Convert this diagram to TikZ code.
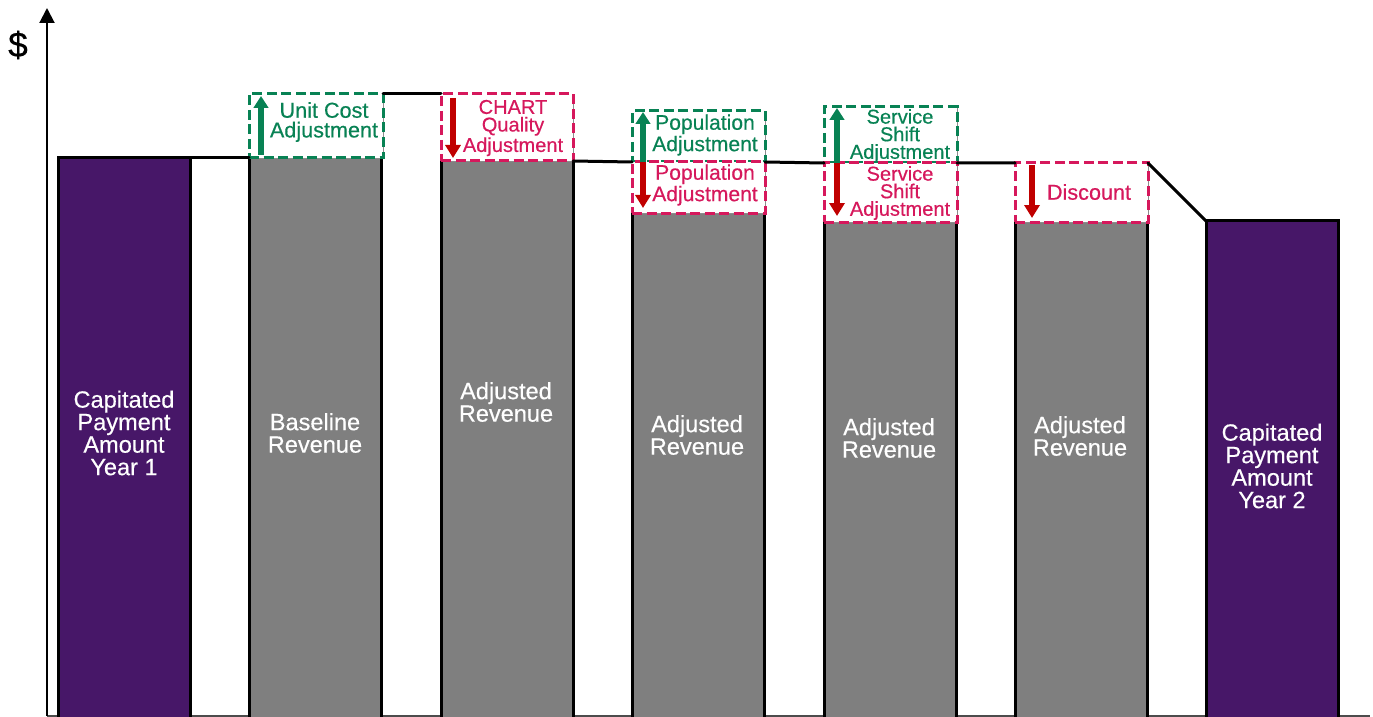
\documentclass[tikz,border=0pt]{standalone}
\usepackage{fontspec}
\setmainfont{Liberation Sans}[FakeBold=0.4]
\usetikzlibrary{positioning,calc,arrows.meta}
\definecolor{cappurple}{RGB}{71,23,104}
\definecolor{revgray}{RGB}{127,127,127}
\definecolor{upgreen}{RGB}{8,130,84}
\definecolor{dnpink}{RGB}{214,24,92}
\definecolor{dnred}{RGB}{192,0,0}

\begin{document}
\begin{tikzpicture}[x=0.2mm, y=-0.2mm,
    bar/.style={draw, line width=0.6mm, minimum width=26.4mm, anchor=north west, inner sep=0pt, outer sep=0pt},
    adjbox/.style={draw=#1, line width=0.6mm, dash pattern=on 2mm off 0.9mm, fill=white,
      preaction={draw=black!45, line width=0.4pt, solid},
      minimum width=26.6mm, anchor=north west, inner sep=0pt, outer sep=0pt},
    uparrow/.style={draw=upgreen, line width=1.3mm, -{Triangle[length=2.4mm, width=2.9mm]}},
    dnarrow/.style={draw=dnred, line width=1.3mm, -{Triangle[length=2.6mm, width=3mm]}},
    runline/.style={line width=0.6mm, line cap=round},
    boxtxt/.style={align=center, inner sep=0pt, font=\fontsize{12.3}{10.8}\selectfont},
    tightbox/.style={boxtxt, font=\fontsize{11.4}{10}\selectfont},
    bartxt/.style={align=center, inner sep=0pt, text=white, font=\fontsize{13.4}{12.8}\selectfont}]
  \useasboundingbox (0,0) rectangle (1373,717);

  % axes
  \coordinate (origin) at (47,716);
  \coordinate (ytop) at (47,8);
  \coordinate (xend) at (1370,716);
  \draw[black!70, line width=0.3mm] (origin) -- (xend);
  \draw[line width=0.4mm, -{Triangle[length=3mm, width=3mm]}] (origin) -- (ytop);
  \node[font=\fontsize{20}{20}\selectfont] (dollar) at (18,45) {\$};

  % bars
  \node[bar, fill=cappurple, minimum height=112.4mm] (cap1) at (58,158) {};
  \node[bar, fill=revgray, minimum height=112.4mm] (base) at (249,158) {};
  \node[bar, fill=revgray, minimum height=111.8mm] (adj1) at (441,161) {};
  \node[bar, fill=revgray, minimum height=101.4mm] (adj2) at (632,213) {};
  \node[bar, fill=revgray, minimum height=99.6mm] (adj3) at (824,222) {};
  \node[bar, fill=revgray, minimum height=99.6mm] (adj4) at (1015,222) {};
  \node[bar, fill=cappurple, minimum height=99.8mm] (cap2) at (1206,221) {};

  % adjustment boxes
  \node[adjbox=upgreen, minimum width=26.8mm, minimum height=12.8mm] (ucost) at (249,94) {};
  \node[adjbox=dnpink, minimum width=26.4mm, minimum height=13.4mm] (chart) at (441,94) {};
  \node[adjbox=upgreen, minimum height=10.2mm] (popup) at (632,111) {};
  \node[adjbox=dnpink, minimum height=10.2mm] (popdn) at (632,162) {};
  \node[adjbox=upgreen, minimum height=11.2mm] (shup) at (824,107) {};
  \node[adjbox=dnpink, minimum height=11.8mm] (shdn) at (824,163) {};
  \node[adjbox=dnpink, minimum height=11.8mm] (disc) at (1015,163) {};

  % running level
  \draw[runline] (cap1.north east) -- (base.north west);
  \draw[runline] (ucost.north east) -- (chart.north west);
  \draw[runline] (chart.south east) -- (popup.south west);
  \draw[runline] (popup.south east) -- (shup.south west);
  \draw[runline] (shup.south east) -- (disc.north west);
  \draw[runline] (disc.north east) -- (cap2.north west);

  % arrows
  \draw[uparrow] ([shift={(12,-3)}]ucost.south west) -- ([shift={(12,2)}]ucost.north west);
  \draw[dnarrow] ([shift={(12,4)}]chart.north west) -- ([shift={(12,-3)}]chart.south west);
  \draw[uparrow] ([shift={(11,0)}]popup.south west) -- ([shift={(11,1)}]popup.north west);
  \draw[dnarrow] ([shift={(11,0)}]popdn.north west) -- ([shift={(11,-5)}]popdn.south west);
  \draw[uparrow] ([shift={(13,0)}]shup.south west) -- ([shift={(13,1)}]shup.north west);
  \draw[dnarrow] ([shift={(13,0)}]shdn.north west) -- ([shift={(13,-6)}]shdn.south west);
  \draw[dnarrow] ([shift={(17,2)}]disc.north west) -- ([shift={(17,-4)}]disc.south west);

  % box labels
  \node[boxtxt, text=upgreen, font=\fontsize{12.3}{11.2}\selectfont] (ucosttxt) at (324,122) {Unit Cost\\Adjustment};
  \node[tightbox, text=dnpink] (charttxt) at (513,128) {CHART\\Quality\\Adjustment};
  \node[boxtxt, text=upgreen, font=\fontsize{12}{10.4}\selectfont] (popuptxt) at (705,135) {Population\\Adjustment};
  \node[boxtxt, text=dnpink, font=\fontsize{12}{10.4}\selectfont] (popdntxt) at (705,185) {Population\\Adjustment};
  \node[tightbox, text=upgreen] (shuptxt) at (900,136) {Service\\Shift\\Adjustment};
  \node[tightbox, text=dnpink] (shdntxt) at (900,193) {Service\\Shift\\Adjustment};
  \node[boxtxt, text=dnpink] (disctxt) at (1089,192) {Discount};

  % bar labels
  \node[bartxt] (cap1txt) at (124,433) {Capitated\\Payment\\Amount\\Year 1};
  \node[bartxt] (basetxt) at (315,433) {Baseline\\Revenue};
  \node[bartxt] (adj1txt) at (506,402) {Adjusted\\Revenue};
  \node[bartxt] (adj2txt) at (697,435) {Adjusted\\Revenue};
  \node[bartxt] (adj3txt) at (889,438) {Adjusted\\Revenue};
  \node[bartxt] (adj4txt) at (1080,436) {Adjusted\\Revenue};
  \node[bartxt] (cap2txt) at (1272,466) {Capitated\\Payment\\Amount\\Year 2};
\end{tikzpicture}
\end{document}
